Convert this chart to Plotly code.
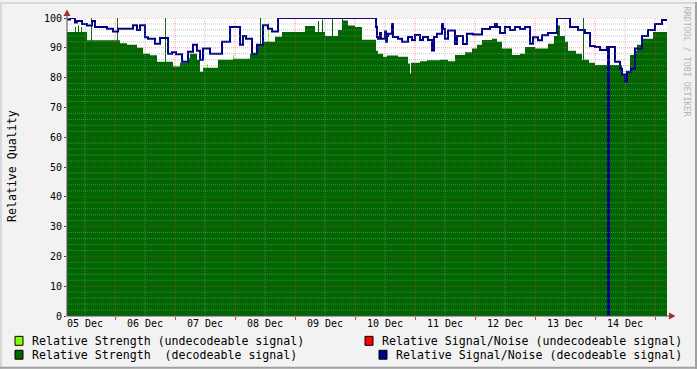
import pandas as pd
import plotly.graph_objects as go

# ---------------- data (hours after 05 Dec 04:48) ----------------
start = pd.Timestamp("2012-12-05 04:48")
end_hours = 240.0

strength_hours = [0.0, 3.2, 3.6, 4.4, 4.8, 5.6, 6.0, 8.0, 9.6, 10.0, 20.0, 20.4, 21.2, 24.0,
                  28.0, 30.4, 33.2, 36.0, 39.2, 39.6, 42.4, 45.2, 48.0, 49.2, 52.0, 53.2,
                  54.4, 60.4, 66.4, 73.2, 76.4, 77.2, 77.6, 78.4, 83.2, 86.0, 95.2, 99.2,
                  100.4, 100.8, 102.0, 102.4, 103.2, 106.0, 106.4, 108.4, 110.0, 110.4,
                  112.4, 115.2, 118.0, 123.6, 124.4, 126.4, 128.0, 132.4, 136.4, 137.2,
                  137.6, 141.2, 144.0, 149.2, 152.4, 155.2, 159.2, 162.0, 164.0,
                  166.0, 170.0, 172.0, 174.0, 178.0, 181.2, 183.2, 187.2, 192.4, 194.8,
                  196.0, 197.2, 199.2, 200.4, 203.6, 206.0, 206.4, 206.8, 208.8, 211.2,
                  222.0, 223.2, 224.4, 225.2, 226.8, 228.0, 230.0, 234.4, 240.0]
strength_values = [95.3, 97.0, 95.3, 97.5, 95.3, 97.0, 95.3, 92.5, 100.0, 92.5, 100.0, 92.5, 91.5, 91.0,
                   90.0, 88.0, 87.5, 85.3, 100.0, 85.3, 83.7, 85.0, 86.5, 88.0, 86.0, 82.0,
                   83.3, 86.0, 86.3, 88.0, 91.0, 100.0, 91.0, 92.0, 93.7, 95.3, 97.3, 95.3,
                   99.0, 95.3, 99.5, 95.3, 94.0, 100.0, 94.0, 96.0, 100.0, 99.2,
                   97.5, 97.0, 92.7, 89.0, 88.0, 87.0, 87.4, 87.0, 84.7, 81.4,
                   85.0, 85.5, 85.8, 86.0, 85.5, 87.6, 88.5, 89.8, 91.0,
                   92.6, 93.0, 92.0, 89.8, 87.6, 88.0, 90.3, 89.8, 91.4, 94.0,
                   97.5, 94.0, 92.0, 89.0, 88.0, 86.0, 100.0, 86.0, 85.0, 84.2,
                   81.0, 80.0, 82.0, 87.6, 89.0, 91.0, 93.0, 95.3, 95.3]

weak_hours = [0.0, 56.0, 56.4, 66.4, 66.8, 80.4, 80.8, 240.0]
weak_values = [0.0, 84.5, 0.0, 87.5, 0.0, 98.5, 0.0, 0.0]

snr_hours = [0.0, 1.2, 3.2, 4.0, 6.0, 8.0, 10.0, 11.2, 16.0, 18.4, 20.4, 26.4, 28.0, 29.2,
             31.2, 32.4, 35.2, 37.2, 40.4, 42.0, 43.6, 46.0, 48.4, 50.4, 52.0, 53.2, 54.4,
             57.2, 62.0, 65.2, 69.2, 70.4, 71.6, 74.0, 76.0, 78.4, 80.4, 82.0, 84.4,
             123.2, 123.6, 124.0, 124.4, 125.2, 125.6, 127.2, 127.6, 128.0, 128.4, 130.0,
             130.4, 132.4, 134.0, 136.4, 138.0, 139.2, 141.2, 142.4, 144.4, 146.0, 146.8,
             148.0, 150.0, 150.4, 151.2, 152.4, 155.2, 156.0, 158.4, 160.0, 162.4, 166.0,
             169.2, 171.2, 172.0, 173.2, 175.2, 177.2, 179.2, 181.2, 183.2,
             185.2, 186.4, 188.4, 190.0, 192.4, 196.0, 201.2, 204.4, 207.2, 209.2,
             211.2, 213.2, 216.0, 216.4, 216.8, 219.2, 221.2, 222.0, 223.2, 224.0, 225.6,
             227.2, 230.0, 232.4, 235.2, 238.0, 240.0]
snr_values = [99.5, 100.0, 98.5, 99.0, 98.0, 97.5, 99.0, 97.0, 96.4, 95.5, 96.4, 97.6, 96.0, 97.6,
              93.5, 93.0, 91.4, 93.3, 88.0, 88.5, 87.8, 85.3, 88.7, 91.0, 89.0, 86.0, 89.8,
              88.0, 92.0, 97.0, 91.0, 94.0, 93.0, 88.0, 91.0, 97.6, 96.4, 95.5, 100.0,
              100.0, 97.0, 93.6, 93.0, 95.0, 93.0, 95.5, 92.0, 94.0, 94.7, 98.0,
              93.6, 93.0, 92.0, 93.6, 92.6, 94.3, 92.6, 93.6, 92.6, 89.1, 93.6,
              94.7, 98.0, 96.3, 93.0, 95.8, 91.3, 94.0, 91.3, 94.7, 94.5, 96.3,
              97.0, 98.0, 97.0, 95.0, 97.0, 96.0, 97.0, 96.3, 97.0,
              91.4, 93.5, 92.5, 94.2, 95.0, 100.0, 97.0, 96.0, 95.0, 90.6,
              90.3, 89.3, 90.3, 0.0, 90.3, 85.3, 83.0, 81.0, 78.7, 82.0, 83.0,
              89.8, 94.0, 96.0, 98.0, 99.3, 99.3]

day_labels = ["05 Dec", "06 Dec", "07 Dec", "08 Dec", "09 Dec",
              "10 Dec", "11 Dec", "12 Dec", "13 Dec", "14 Dec"]

legend_labels = ["Relative Strength (undecodeable signal)",
                 "Relative Signal/Noise (undecodeable signal)",
                 "Relative Strength  (decodeable signal)",
                 "Relative Signal/Noise (decodeable signal)"]

# ---------------- styling ----------------
C_WEAK = "#80FF00"
C_STR = "#006600"
C_SNRU = "#FF0000"
C_SNR = "#000088"
FONT = "DejaVu Sans Mono"

def t(hours):
    return [start + pd.Timedelta(hours=h) for h in hours]

W, H = 697, 369
L, R, T, B = 67, 667, 16, 316

def pxx(x):
    return (x - L) / (R - L)

def pxy(y):
    return (B - y) / (B - T)

fig = go.Figure()
fig.add_trace(go.Scatter(x=t(weak_hours), y=weak_values, mode="lines", line=dict(width=0, shape="hv"),
                         fill="tozeroy", fillcolor=C_WEAK, hoverinfo="skip"))
fig.add_trace(go.Scatter(x=t(strength_hours), y=strength_values, mode="lines",
                         line=dict(width=0, shape="hv"), fill="tozeroy", fillcolor=C_STR))
fig.add_trace(go.Scatter(x=t(snr_hours), y=snr_values, mode="lines",
                         line=dict(width=2, shape="hv", color=C_SNR)))

first_day = pd.Timestamp("2012-12-05")
tickvals = [first_day + pd.Timedelta(days=i, hours=12) for i in range(len(day_labels))]

shapes = []
# horizontal grid (above data, like rrdtool)
for v in range(2, 101, 2):
    major = v % 10 == 0
    shapes.append(dict(type="line", xref="paper", yref="y", x0=0, x1=1, y0=v, y1=v,
                       layer="above",
                       line=dict(color="rgba(255,40,40,0.45)" if major else "rgba(150,150,150,0.55)",
                                 width=1, dash="1px,1px")))
# vertical grid every 12h
for k in range(1, 21):
    tt = first_day + pd.Timedelta(hours=12 * k)
    major = (k % 2 == 0)
    shapes.append(dict(type="line", xref="x", yref="paper", x0=tt, x1=tt, y0=0, y1=1,
                       layer="above",
                       line=dict(color="rgba(255,40,40,0.45)" if major else "rgba(150,150,150,0.55)",
                                 width=1, dash="1px,1px")))
# axes lines and arrows
shapes.append(dict(type="line", xref="paper", yref="paper", x0=0, x1=0, y0=0, y1=pxy(10),
                   layer="above", line=dict(color="#505050", width=1)))
shapes.append(dict(type="line", xref="paper", yref="paper", x0=0, x1=pxx(671), y0=0, y1=0,
                   layer="above", line=dict(color="#505050", width=1)))
shapes.append(dict(type="path", xref="paper", yref="paper", layer="above",
                   path=f"M {pxx(63.5)} {pxy(14)} L {pxx(70.5)} {pxy(14)} L {pxx(67)} {pxy(7.5)} Z",
                   fillcolor="#A03030", line=dict(width=0)))
shapes.append(dict(type="path", xref="paper", yref="paper", layer="above",
                   path=f"M {pxx(669)} {pxy(312.5)} L {pxx(669)} {pxy(319.5)} L {pxx(675.5)} {pxy(316)} Z",
                   fillcolor="#A03030", line=dict(width=0)))
# frame of the canvas
shapes.append(dict(type="line", xref="paper", yref="paper", x0=pxx(0), x1=pxx(W), y0=pxy(1), y1=pxy(1),
                   line=dict(color="#D8D8D8", width=2)))
shapes.append(dict(type="line", xref="paper", yref="paper", x0=pxx(1), x1=pxx(1), y0=pxy(0), y1=pxy(H),
                   line=dict(color="#D8D8D8", width=2)))
shapes.append(dict(type="line", xref="paper", yref="paper", x0=pxx(0), x1=pxx(W), y0=pxy(H - 1), y1=pxy(H - 1),
                   line=dict(color="#A0A0A0", width=2)))
shapes.append(dict(type="line", xref="paper", yref="paper", x0=pxx(W - 1), x1=pxx(W - 1), y0=pxy(0), y1=pxy(H),
                   line=dict(color="#A0A0A0", width=2)))

# legend swatches + texts
legend_pos = [(15, 30, 341), (365, 380, 341), (15, 30, 355), (379, 394, 355)]
legend_colors = [C_WEAK, C_SNRU, C_STR, C_SNR]
annotations = []
for (sx, tx, yy), col, lab in zip(legend_pos, legend_colors, legend_labels):
    shapes.append(dict(type="rect", xref="paper", yref="paper",
                       x0=pxx(sx), x1=pxx(sx + 8), y0=pxy(yy - 4.5), y1=pxy(yy + 4.5),
                       fillcolor=col, line=dict(color="#000000", width=1)))
    annotations.append(dict(xref="paper", yref="paper", x=pxx(tx), y=pxy(yy), text=lab,
                            showarrow=False, xanchor="left", yanchor="middle",
                            font=dict(family=FONT, size=11.6, color="#000000")))

annotations.append(dict(xref="paper", yref="paper", x=pxx(12), y=pxy(165), text="Relative Quality",
                        textangle=-90, showarrow=False, xanchor="center", yanchor="middle",
                        font=dict(family=FONT, size=11.6, color="#000000")))
annotations.append(dict(xref="paper", yref="paper", x=pxx(687), y=pxy(60), text="RRDTOOL / TOBI OETIKER",
                        textangle=90, showarrow=False, xanchor="center", yanchor="middle",
                        font=dict(family=FONT, size=8.3, color="#B4B4B4")))

fig.update_layout(
    width=W, height=H,
    margin=dict(l=L, r=W - R, t=T, b=H - B),
    paper_bgcolor="#F2F2F2", plot_bgcolor="#FFFFFF",
    showlegend=False,
    shapes=shapes, annotations=annotations,
    xaxis=dict(range=[start, start + pd.Timedelta(hours=end_hours)], type="date",
               tickvals=tickvals, ticktext=day_labels, ticks="", showgrid=False, zeroline=False,
               showline=False, tickfont=dict(family=FONT, size=10, color="#000000"),
               minor=dict(tick0="2012-12-06", dtick=86400000, ticks="outside", ticklen=3,
                          tickcolor="#D04040", showgrid=False)),
    yaxis=dict(range=[0, 100], tickvals=list(range(0, 101, 10)), ticks="outside", ticklen=2,
               tickcolor="#404040", showgrid=False, zeroline=False, showline=False,
               tickfont=dict(family=FONT, size=10, color="#000000")),
)

fig.write_html("out.html", config={"displayModeBar": False},
               post_script="document.body.style.margin='0';document.body.style.padding='0';")
